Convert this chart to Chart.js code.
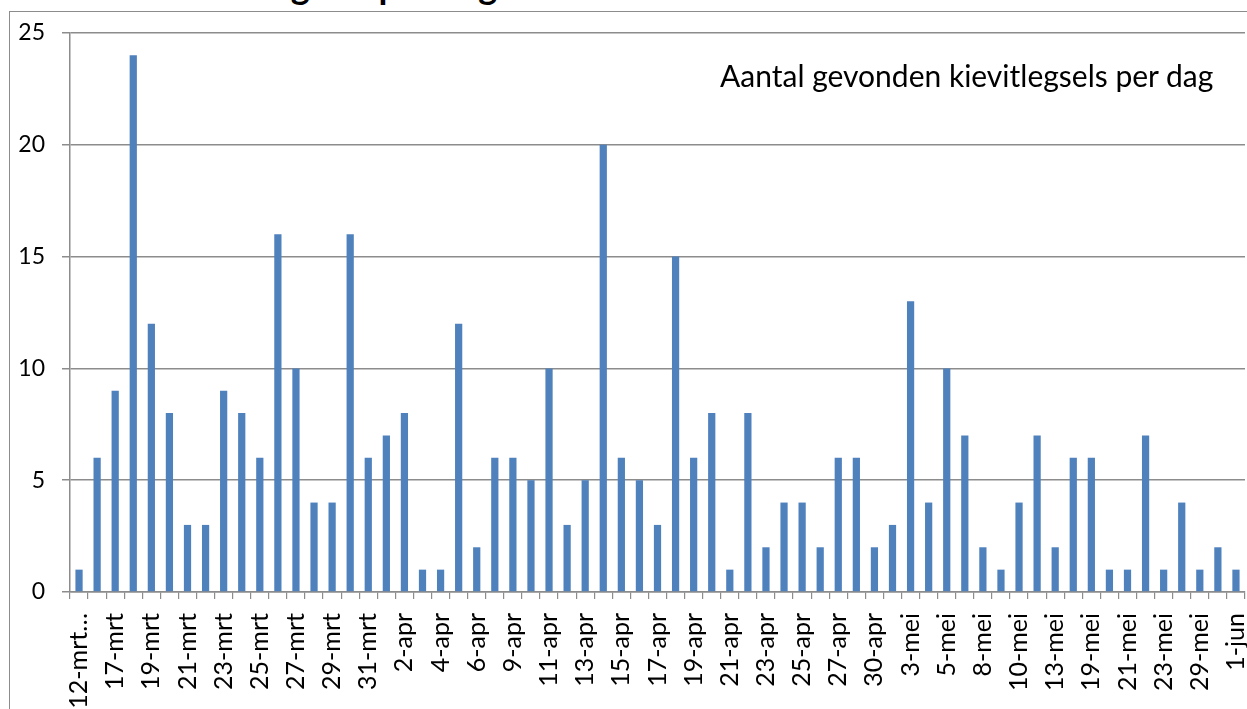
<!DOCTYPE html>
<html>
<head>
<meta charset="utf-8">
<script src="https://cdn.jsdelivr.net/npm/chart.js@4"></script>
<style>
  html, body { margin: 0; padding: 0; background: #fff; overflow: hidden; }
  #wrap { position: relative; width: 1247px; height: 709px; overflow: hidden; }
  #frame { position: absolute; left: 9px; top: 11px; width: 1260px; height: 720px;
           border-left: 1.5px solid #8c8c8c; border-top: 1.5px solid #8c8c8c; }
  #title { position: absolute; left: 150px; top: -33px; font: bold 36px Lato, sans-serif;
           line-height: 36px; white-space: nowrap; color: #000; }
  #note { position: absolute; left: 720px; top: 57px; font: 30px Lato, sans-serif;
          line-height: 36px; white-space: nowrap; color: #000; }
  canvas { position: absolute; left: 0; top: 0; }
</style>
</head>
<body>
<div id="wrap">
  <div id="frame"></div>
  <div id="title">Aantal legsels per dag</div>
  <canvas id="c" width="1247" height="709"></canvas>
  <div id="note">Aantal gevonden kievitlegsels per dag</div>
</div>
<script>
// Visible category labels (every other bar is labelled in the original)
const tickLabels = ['12-mrt…','17-mrt','19-mrt','21-mrt','23-mrt','25-mrt','27-mrt','29-mrt','31-mrt',
  '2-apr','4-apr','6-apr','9-apr','11-apr','13-apr','15-apr','17-apr','19-apr','21-apr','23-apr',
  '25-apr','27-apr','30-apr','3-mei','5-mei','8-mei','10-mei','13-mei','19-mei','21-mei','23-mei',
  '29-mei','1-jun'];

// Number of nests found per day (65 bars)
const values = [1,6,9,24,12,8,3,3,9,8,6,16,10,4,4,16,6,7,8,1,1,12,2,6,6,5,10,3,5,20,
  6,5,3,15,6,8,1,8,2,4,4,2,6,6,2,3,13,4,10,7,2,1,4,7,2,6,6,1,1,7,1,4,1,2,1];

const yTicks = [0,5,10,15,20,25];

// categories: labelled bars interleaved with unlabelled ones
const categories = values.map((v, i) => (i % 2 === 0 ? tickLabels[i / 2] : ''));

const gridColor = '#8c8c8c';

new Chart(document.getElementById('c'), {
  type: 'bar',
  data: {
    labels: categories,
    datasets: [{
      data: values,
      backgroundColor: '#4F81BD',
      borderWidth: 0,
      barPercentage: 0.4,
      categoryPercentage: 1.0
    }]
  },
  options: {
    responsive: false,
    devicePixelRatio: 1,
    animation: false,
    layout: { padding: { left: 0, right: 2, top: 33, bottom: 0 } },
    plugins: { legend: { display: false }, tooltip: { enabled: false }, title: { display: false } },
    scales: {
      x: {
        offset: true,
        grid: { offset: true, drawOnChartArea: false, drawTicks: true, tickLength: 7, color: gridColor, lineWidth: 1.2 },
        border: { display: true, color: gridColor, width: 1.5 },
        ticks: {
          autoSkip: false, minRotation: 90, maxRotation: 90, padding: 14,
          color: '#000', font: { family: 'Lato', size: 25 }
        },
        afterFit: (s) => { s.height = 117; s.paddingLeft = 0; s.paddingRight = 0; }
      },
      y: {
        min: 0, max: 25,
        afterBuildTicks: (s) => { s.ticks = yTicks.map(v => ({ value: v })); },
        grid: { color: gridColor, lineWidth: 1.5, tickLength: 8, drawTicks: true },
        border: { display: true, color: gridColor, width: 1.5 },
        ticks: { padding: 17, color: '#000', font: { family: 'Lato', size: 23 } },
        afterFit: (s) => { s.width = 70; s.paddingTop = 0; s.paddingBottom = 0; }
      }
    }
  }
});
</script>
</body>
</html>
